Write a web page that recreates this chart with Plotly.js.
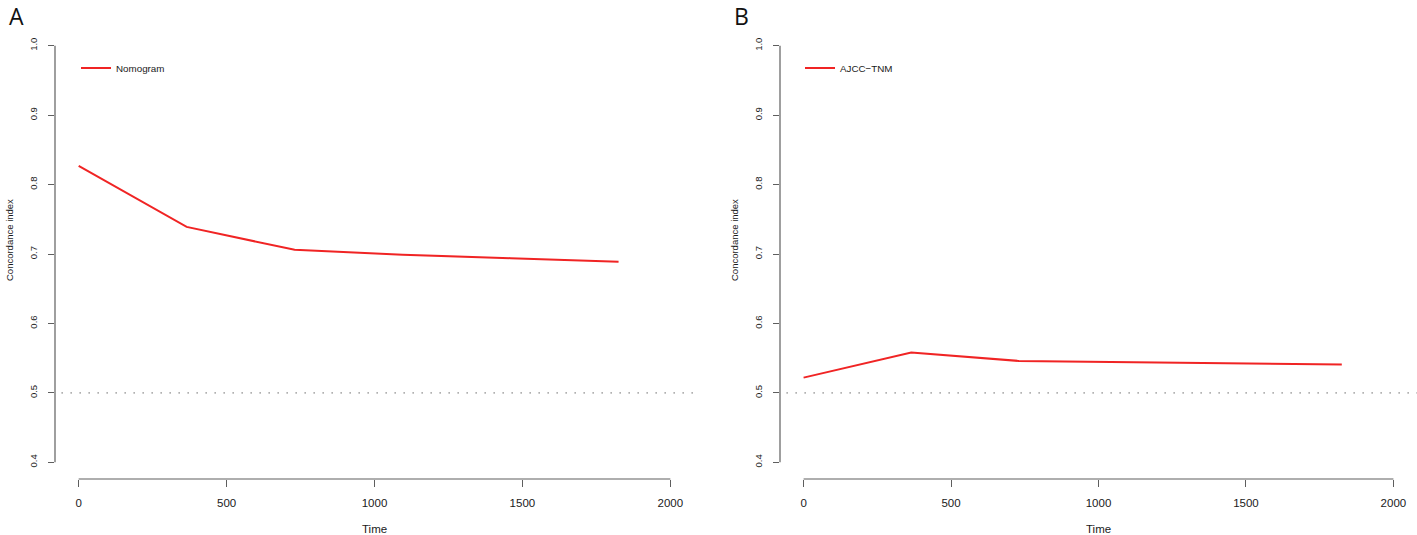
<!DOCTYPE html>
<html>
<head>
<meta charset="utf-8">
<script src="https://cdn.plot.ly/plotly-3.0.1.min.js"></script>
<style>
  html, body { margin: 0; padding: 0; background: #fff; }
  #chart { width: 1417px; height: 535px; }
</style>
</head>
<body>
<div id="chart"></div>
<script>
// time points (days) and C-index values
const times = [0, 365, 730, 1095, 1460, 1825];
const nomogramCindex = [0.827, 0.739, 0.706, 0.699, 0.694, 0.689];
const ajccCindex = [0.522, 0.558, 0.546, 0.544, 0.542, 0.541];

const xTicks = [0, 500, 1000, 1500, 2000];
const yTicks = [0.4, 0.5, 0.6, 0.7, 0.8, 0.9, 1.0];
const refLevel = 0.5;

const panelNames = ['Nomogram', 'AJCC\u2212TNM'];
const panelLetters = ['A', 'B'];

const W = 1417, H = 535;
const px = v => v / W;
const py = v => (H - v) / H;

const axisGrey = '#5e5e5e';
const textCol = '#1a1a1a';
const lineRed = 'rgb(240,36,36)';
const tickFont = { family: 'Liberation Sans, Arial, sans-serif', size: 11.5, color: textCol };
const rotFont = { family: 'Liberation Sans, Arial, sans-serif', size: 9.5, color: textCol };

// panel geometry in pixels (left, right of plot region)
const panels = [
    { left: 55, right: 694 },
    { left: 780, right: 1417 }
];
const plotTop = 29, plotBottom = 479;

function xAxisDef(p, anchor) {
    return {
        domain: [px(p.left), Math.min(1, px(p.right))],
        range: [-80, 2080],
        anchor: anchor,
        showgrid: false, zeroline: false, showline: false,
        tickmode: 'array', tickvals: xTicks, ticktext: xTicks.map(String),
        ticks: 'outside', ticklen: 7, tickwidth: 1, tickcolor: axisGrey,
        ticklabelstandoff: 6,
        tickfont: tickFont,
        fixedrange: true
    };
}

function yAxisDef(anchor) {
    return {
        domain: [py(plotBottom), py(plotTop)],
        range: [0.376, 1.024],
        anchor: anchor,
        showgrid: false, zeroline: false, showline: false,
        tickmode: 'array', tickvals: yTicks, ticktext: yTicks.map(v => v.toFixed(1)),
        ticks: 'outside', ticklen: 6, tickwidth: 1, tickcolor: axisGrey,
        tickangle: -90,
        ticklabelstandoff: 7,
        tickfont: rotFont,
        fixedrange: true
    };
}

const traces = [
    {
        x: times, y: nomogramCindex, xaxis: 'x', yaxis: 'y',
        type: 'scatter', mode: 'lines', name: panelNames[0],
        line: { color: lineRed, width: 2 }, legend: 'legend'
    },
    {
        x: times, y: ajccCindex, xaxis: 'x2', yaxis: 'y2',
        type: 'scatter', mode: 'lines', name: panelNames[1],
        line: { color: lineRed, width: 2 }, legend: 'legend2'
    }
];

const shapes = [];
const annotations = [];
['', '2'].forEach((suf, i) => {
    const xr = 'x' + suf, yr = 'y' + suf;
    // R-style axis lines that only span the tick range
    shapes.push({
        type: 'line', xref: xr, yref: yr + ' domain',
        x0: xTicks[0], x1: xTicks[xTicks.length - 1], y0: 0, y1: 0,
        line: { color: axisGrey, width: 1.2 }
    });
    shapes.push({
        type: 'line', xref: xr + ' domain', yref: yr,
        x0: 0, x1: 0, y0: yTicks[0], y1: yTicks[yTicks.length - 1],
        line: { color: axisGrey, width: 1.2 }
    });
    // dotted reference line at 0.5
    shapes.push({
        type: 'line', xref: xr + ' domain', yref: yr,
        x0: 0.01, x1: 1, y0: refLevel, y1: refLevel,
        line: { color: '#b0b0b0', width: 1.6, dash: '1.6px,7.4px' }
    });

    const off = panels[i].left - panels[0].left;
    const mid = (panels[i].left + Math.min(W, panels[i].right)) / 2;
    annotations.push({
        text: 'Time', xref: 'paper', yref: 'paper',
        x: px(mid), y: py(529), xanchor: 'center', yanchor: 'middle',
        showarrow: false, font: tickFont
    });
    annotations.push({
        text: 'Concordance index', xref: 'paper', yref: 'paper',
        x: px(9 + off), y: py(240), xanchor: 'center', yanchor: 'middle',
        textangle: -90, showarrow: false, font: rotFont
    });
    annotations.push({
        text: panelLetters[i], xref: 'paper', yref: 'paper',
        x: px(7 + off), y: py(16), xanchor: 'left', yanchor: 'middle',
        showarrow: false,
        font: { family: 'Open Sans, Liberation Sans, sans-serif', size: 23, color: '#111' }
    });
});

function legendDef(left) {
    return {
        x: px(left), y: py(68), xanchor: 'left', yanchor: 'middle',
        bgcolor: 'rgba(0,0,0,0)', borderwidth: 0,
        font: { family: 'Liberation Sans, Arial, sans-serif', size: 9.8, color: textCol },
        itemclick: false, itemdoubleclick: false
    };
}

const layout = {
    width: W, height: H,
    margin: { l: 0, r: 0, t: 0, b: 0 },
    paper_bgcolor: '#fff', plot_bgcolor: '#fff',
    showlegend: true,
    xaxis: xAxisDef(panels[0], 'y'),
    yaxis: yAxisDef('x'),
    xaxis2: xAxisDef(panels[1], 'y2'),
    yaxis2: yAxisDef('x2'),
    legend: legendDef(76),
    legend2: legendDef(800),
    shapes: shapes,
    annotations: annotations
};

Plotly.newPlot('chart', traces, layout, { displayModeBar: false, staticPlot: true });
</script>
</body>
</html>
